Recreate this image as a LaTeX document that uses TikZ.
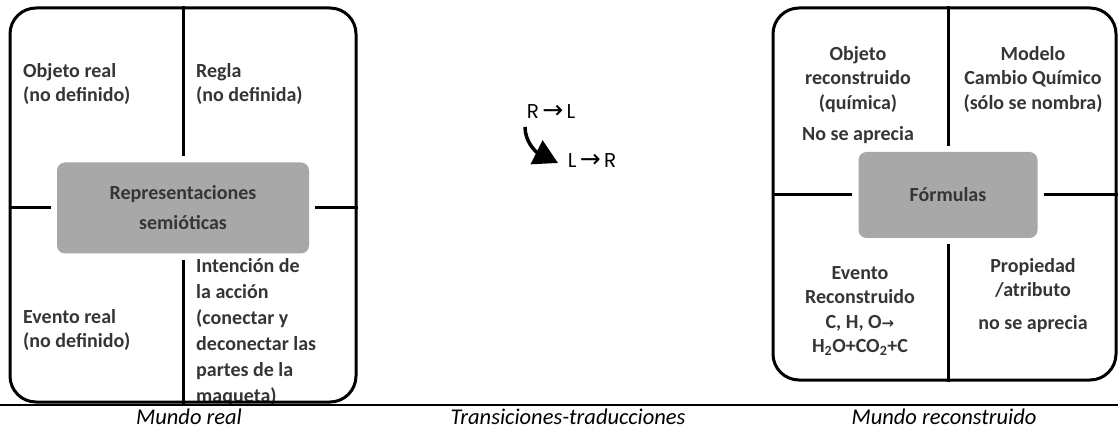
\documentclass[tikz,border=0pt]{standalone}
\usepackage{fontspec}
\setmainfont{Carlito}
\newfontfamily\arrowfont{DejaVu Sans}
\newfontfamily\geofont{Poppins}
\usetikzlibrary{arrows.meta, positioning, calc}
\definecolor{coregray}{HTML}{A8A8A8}
\definecolor{inkgray}{HTML}{353535}
\tikzset{
  panel/.style={draw, line width=3pt, rounded corners=26pt, inner sep=0pt},
  divider/.style={line width=3pt, shorten >=6pt},
  core/.style={fill=coregray, rounded corners=8pt, inner sep=0pt, text=inkgray, align=center,
    font=\fontsize{20}{30}\selectfont\bfseries},
  cell/.style={inner sep=0pt, text=inkgray, font=\fontsize{20}{24.5}\selectfont\bfseries},
  caption/.style={inner sep=0pt, font=\fontsize{22.5}{25}\selectfont\itshape},
  transtext/.style={inner sep=0pt, font=\fontsize{20}{24}\geofont},
  turn/.style={line width=3.5pt, -{Triangle[length=24pt, width=26pt]}}
}
\newcommand{\tor}{{\arrowfont →}}
\newcommand{\bigtor}{\,{\fontsize{25}{25}\arrowfont →}\,}

\begin{document}
\begin{tikzpicture}[x=1pt, y=-1pt]
  \useasboundingbox (0,0) rectangle (1118,430);
  % mundo real
  \node[core, minimum width=252pt, minimum height=91pt] (lcore) at (183,208) {Representaciones\\semióticas};
  \node[cell, anchor=north west, align=left] (lobj) at (23,63) {Objeto real\\(no definido)};
  \node[cell, anchor=north west, align=left] (lrule) at (196,63) {Regla\\(no definida)};
  \node[cell, anchor=north west, align=left] (levent) at (23,309) {Evento real\\(no definido)};
  \node[cell, anchor=north west, align=left, font=\fontsize{20}{26}\selectfont\bfseries] (lintent) at (196,258)
    {Intención de\\la acción\\(conectar y\\deconectar las\\partes de la\\maqueta)};
  \node[panel, minimum width=346pt, minimum height=394pt] (lpanel) at (183,205) {};
  \draw[divider] (lcore |- lpanel.north) -- (lcore.north);
  \draw[divider] (lcore |- lpanel.south) -- (lcore.south);
  \draw[divider] (lpanel.west |- lcore) -- (lcore.west);
  \draw[divider] (lpanel.east |- lcore) -- (lcore.east);
  % mundo reconstruido
  \node[core, minimum width=179pt, minimum height=86pt] (rcore) at (948,195) {Fórmulas};
  \node[cell, anchor=north, align=center] (robj) at (858,46) {Objeto\\reconstruido\\(química)\\[7pt]No se aprecia};
  \node[cell, anchor=north, align=center] (rmodel) at (1033,46) {Modelo\\Cambio Químico\\(sólo se nombra)};
  \node[cell, anchor=north, align=center] (revent) at (860,266)
    {Evento\\Reconstruido\\C, H, O{\fontsize{15}{15}\selectfont\tor}\\H\textsubscript{2}O+CO\textsubscript{2}+C};
  \node[cell, anchor=north, align=center] (rprop) at (1033,258) {Propiedad\\/atributo\\[8pt]no se aprecia};
  \node[panel, minimum width=343pt, minimum height=372pt] (rpanel) at (944.5,194) {};
  \draw[divider] (rcore |- rpanel.north) -- (rcore.north);
  \draw[divider] (rcore |- rpanel.south) -- (rcore.south);
  \draw[divider] (rpanel.west |- rcore) -- (rcore.west);
  \draw[divider] (rpanel.east |- rcore) -- (rcore.east);
  % transiciones
  \node[transtext] (rl) at (551,112) {R\bigtor L};
  \node[transtext] (lr) at (592,161) {L\bigtor R};
  \coordinate (bendtop) at (525,127);
  \coordinate (bendtip) at (558,163);
  \draw[turn] (bendtop) .. controls (525,142) and (536,152) .. (bendtip);
  % pie
  \coordinate (rulew) at (0,405);
  \coordinate (rulee) at (1118,405);
  \draw[line width=2pt] (rulew) -- (rulee);
  \node[caption] (capreal) at (189,417) {Mundo real};
  \node[caption] (captrans) at (568,417) {Transiciones-traducciones};
  \node[caption] (caprec) at (944,417) {Mundo reconstruido};
\end{tikzpicture}
\end{document}
